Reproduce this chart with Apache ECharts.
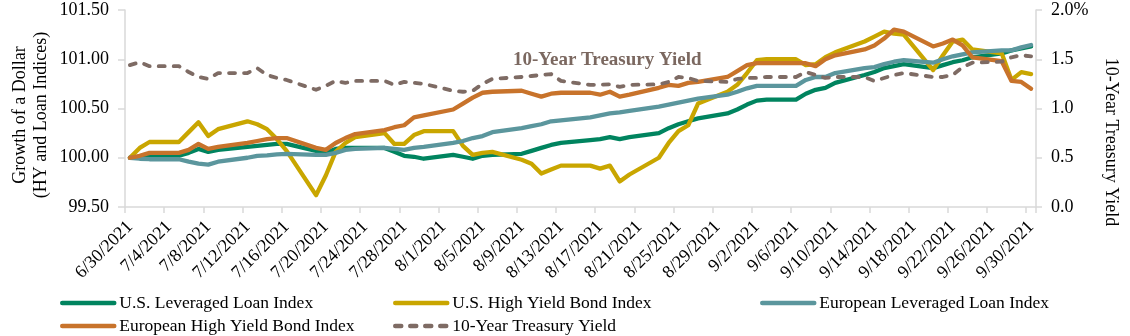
<!DOCTYPE html>
<html>
<head>
<meta charset="utf-8">
<script src="https://cdn.jsdelivr.net/npm/echarts@6/dist/echarts.min.js"></script>
<style>
html,body{margin:0;padding:0;background:#fff;}
#chart{width:1130px;height:336px;}
</style>
</head>
<body>
<div id="chart"></div>
<script>
// Trading days (M/D, 2021)
const tradingDays = [
 '6/30','7/1','7/2','7/5','7/6','7/7','7/8','7/9','7/12','7/13','7/14','7/15','7/16',
 '7/19','7/20','7/21','7/22','7/23','7/26','7/27','7/28','7/29','7/30',
 '8/2','8/3','8/4','8/5','8/6','8/9','8/10','8/11','8/12','8/13',
 '8/16','8/17','8/18','8/19','8/20','8/23','8/24','8/25','8/26','8/27',
 '8/30','8/31','9/1','9/2','9/3','9/6','9/7','9/8','9/9','9/10',
 '9/13','9/14','9/15','9/16','9/17','9/20','9/21','9/22','9/23','9/24',
 '9/27','9/28','9/29','9/30'
];

const usLevLoan = [
 100.00,100.01,100.02,100.02,100.05,100.09,100.06,100.08,100.11,100.12,100.13,100.14,100.14,
 100.07,100.05,100.09,100.10,100.10,100.10,100.06,100.02,100.01,99.99,
 100.03,100.01,99.99,100.02,100.03,100.04,100.07,100.10,100.13,100.15,
 100.18,100.19,100.21,100.19,100.21,100.25,100.30,100.34,100.37,100.40,
 100.45,100.49,100.54,100.58,100.59,100.59,100.65,100.69,100.71,100.76,
 100.84,100.87,100.91,100.93,100.95,100.91,100.94,100.97,100.99,101.02,
 101.06,101.09,101.11,101.13
];

const usHighYield = [
 100.00,100.10,100.16,100.16,100.26,100.36,100.22,100.29,100.37,100.34,100.29,100.19,100.07,
 99.62,99.82,100.06,100.15,100.21,100.25,100.14,100.14,100.23,100.27,
 100.27,100.12,100.03,100.05,100.06,99.98,99.94,99.84,99.88,99.92,
 99.92,99.89,99.92,99.76,99.83,100.00,100.15,100.27,100.33,100.55,
 100.67,100.74,100.86,100.99,101.00,101.00,100.94,100.95,101.02,101.07,
 101.18,101.23,101.28,101.26,101.25,100.89,101.04,101.18,101.20,101.10,
 101.06,100.79,100.87,100.85
];

const euroLevLoan = [
 100.00,99.99,99.985,99.985,99.96,99.94,99.93,99.96,100.00,100.02,100.025,100.035,100.04,
 100.03,100.03,100.05,100.08,100.09,100.10,100.09,100.08,100.10,100.11,
 100.15,100.17,100.20,100.22,100.26,100.30,100.32,100.34,100.37,100.38,
 100.41,100.43,100.45,100.46,100.475,100.52,100.54,100.56,100.58,100.60,
 100.64,100.67,100.705,100.73,100.73,100.73,100.79,100.82,100.82,100.86,
 100.91,100.92,100.95,100.975,100.99,100.965,101.00,101.03,101.05,101.07,
 101.09,101.09,101.12,101.145
];

const euroHighYield = [
 100.00,100.02,100.05,100.05,100.08,100.14,100.09,100.11,100.15,100.17,100.19,100.20,100.20,
 100.10,100.08,100.15,100.20,100.24,100.28,100.31,100.33,100.41,100.43,
 100.49,100.55,100.61,100.66,100.67,100.68,100.65,100.62,100.65,100.66,
 100.66,100.64,100.67,100.62,100.64,100.71,100.74,100.73,100.76,100.77,
 100.82,100.88,100.94,100.96,100.96,100.96,100.96,100.93,101.00,101.04,
 101.10,101.14,101.21,101.30,101.28,101.13,101.16,101.20,101.14,101.02,
 100.98,100.78,100.77,100.70
];

const treasury10y = [
 1.44,1.47,1.43,1.43,1.37,1.32,1.30,1.36,1.36,1.41,1.34,1.31,1.29,
 1.19,1.23,1.28,1.26,1.28,1.28,1.24,1.27,1.26,1.25,
 1.18,1.17,1.18,1.25,1.30,1.32,1.33,1.34,1.35,1.28,
 1.24,1.24,1.245,1.22,1.24,1.245,1.27,1.32,1.31,1.28,
 1.27,1.30,1.31,1.31,1.32,1.32,1.37,1.34,1.31,1.32,
 1.32,1.28,1.31,1.34,1.36,1.32,1.32,1.34,1.42,1.465,
 1.475,1.52,1.54,1.53
];

const leftTicks = [99.5, 100.0, 100.5, 101.0, 101.5];
const rightTicks = ['0.0','0.5','1.0','1.5','2.0%'];

const seriesNames = ['U.S. Leveraged Loan Index','U.S. High Yield Bond Index','European Leveraged Loan Index','European High Yield Bond Index','10-Year Treasury Yield'];
const colors = ['#00845F','#C9A600','#5B969D','#C8732B','#7E6B64'];

// calendar categories 6/30/2021 .. 9/30/2021
const categories = [];
const catIndex = {};
{
  const d = new Date(2021, 5, 30);
  const end = new Date(2021, 8, 30);
  while (d <= end) {
    const md = (d.getMonth()+1) + '/' + d.getDate();
    catIndex[md] = categories.length;
    categories.push(md + '/2021');
    d.setDate(d.getDate()+1);
  }
}
function toCal(vals){
  const arr = new Array(categories.length).fill(null);
  tradingDays.forEach((td,i)=>{ arr[catIndex[td]] = vals[i]; });
  return arr;
}

const FONT = "'Liberation Serif','Times New Roman',serif";
const axisGray = '#D9D9D9';

function lineSeries(i, vals, extra){
  return Object.assign({
    name: seriesNames[i], type:'line', data: toCal(vals), connectNulls:true,
    symbol:'none', smooth:false,
    lineStyle:{color:colors[i], width:4.3, cap:'round', join:'round'},
    itemStyle:{color:colors[i]},
    emphasis:{disabled:true}, animation:false
  }, extra||{});
}

function legendItem(name, left, top){
  return {
    show:true, orient:'horizontal', left:left, top:top,
    data:[name], itemWidth:52, itemHeight:14, itemGap:5,
    itemStyle:{opacity:0, borderWidth:0},
    lineStyle:{width:4.5, cap:'round'},
    textStyle:{fontFamily:FONT, fontSize:17.5, color:'#000', lineHeight:18},
    selectedMode:false, padding:0
  };
}

const chart = echarts.init(document.getElementById('chart'), null, {renderer:'canvas'});
chart.setOption({
  animation:false,
  backgroundColor:'#fff',
  grid:{left:125, right:94, top:10, bottom:129, containLabel:false},
  xAxis:{
    type:'category', data:categories, boundaryGap:true,
    axisLine:{show:true, lineStyle:{color:axisGray, width:1.5}},
    axisTick:{show:true, interval:3, length:6, lineStyle:{color:axisGray, width:1.5}},
    axisLabel:{interval:3, rotate:45, fontFamily:FONT, fontSize:18, color:'#000', margin:17}
  },
  yAxis:[
    {type:'value', min:leftTicks[0], max:leftTicks[leftTicks.length-1], interval:0.5,
     splitLine:{show:false},
     axisLine:{show:true, lineStyle:{color:axisGray, width:1.5}},
     axisTick:{show:true, length:7, lineStyle:{color:axisGray, width:1.5}},
     axisLabel:{fontFamily:FONT, fontSize:18, color:'#000', margin:16, formatter:v=>v.toFixed(2)}},
    {type:'value', min:0, max:2, interval:0.5, position:'right',
     splitLine:{show:false},
     axisLine:{show:true, lineStyle:{color:axisGray, width:1.5}},
     axisTick:{show:true, length:6, lineStyle:{color:axisGray, width:1.5}},
     axisLabel:{fontFamily:FONT, fontSize:18, color:'#000', margin:15,
       formatter:v=>rightTicks[Math.round(v/0.5)]}}
  ],
  legend:[
    legendItem(seriesNames[0], 60, 294),
    legendItem(seriesNames[3], 60, 317),
    legendItem(seriesNames[1], 393, 294),
    legendItem(seriesNames[4], 393, 317),
    legendItem(seriesNames[2], 760, 294)
  ],
  graphic:[
    {type:'text', x:31, y:115, rotation:Math.PI/2,
     style:{text:'Growth of a Dollar\n(HY and Loan Indices)', font:"18px "+FONT, fill:'#000',
       align:'center', verticalAlign:'middle', lineHeight:21}},
    {type:'text', x:1111, y:142, rotation:-Math.PI/2,
     style:{text:'10-Year Treasury Yield', font:"18px "+FONT, fill:'#000',
       align:'center', verticalAlign:'middle'}},
    {type:'text', x:513, y:60,
     style:{text:'10-Year Treasury Yield', font:"bold 19px "+FONT, fill:'#7B6860',
       align:'left', verticalAlign:'middle'}}
  ],
  series:[
    lineSeries(0, usLevLoan),
    lineSeries(1, usHighYield),
    lineSeries(2, euroLevLoan),
    lineSeries(3, euroHighYield),
    lineSeries(4, treasury10y, {yAxisIndex:1,
      lineStyle:{color:colors[4], width:3.8, type:[6,9], cap:'round', join:'round'}})
  ]
});
</script>
</body>
</html>
